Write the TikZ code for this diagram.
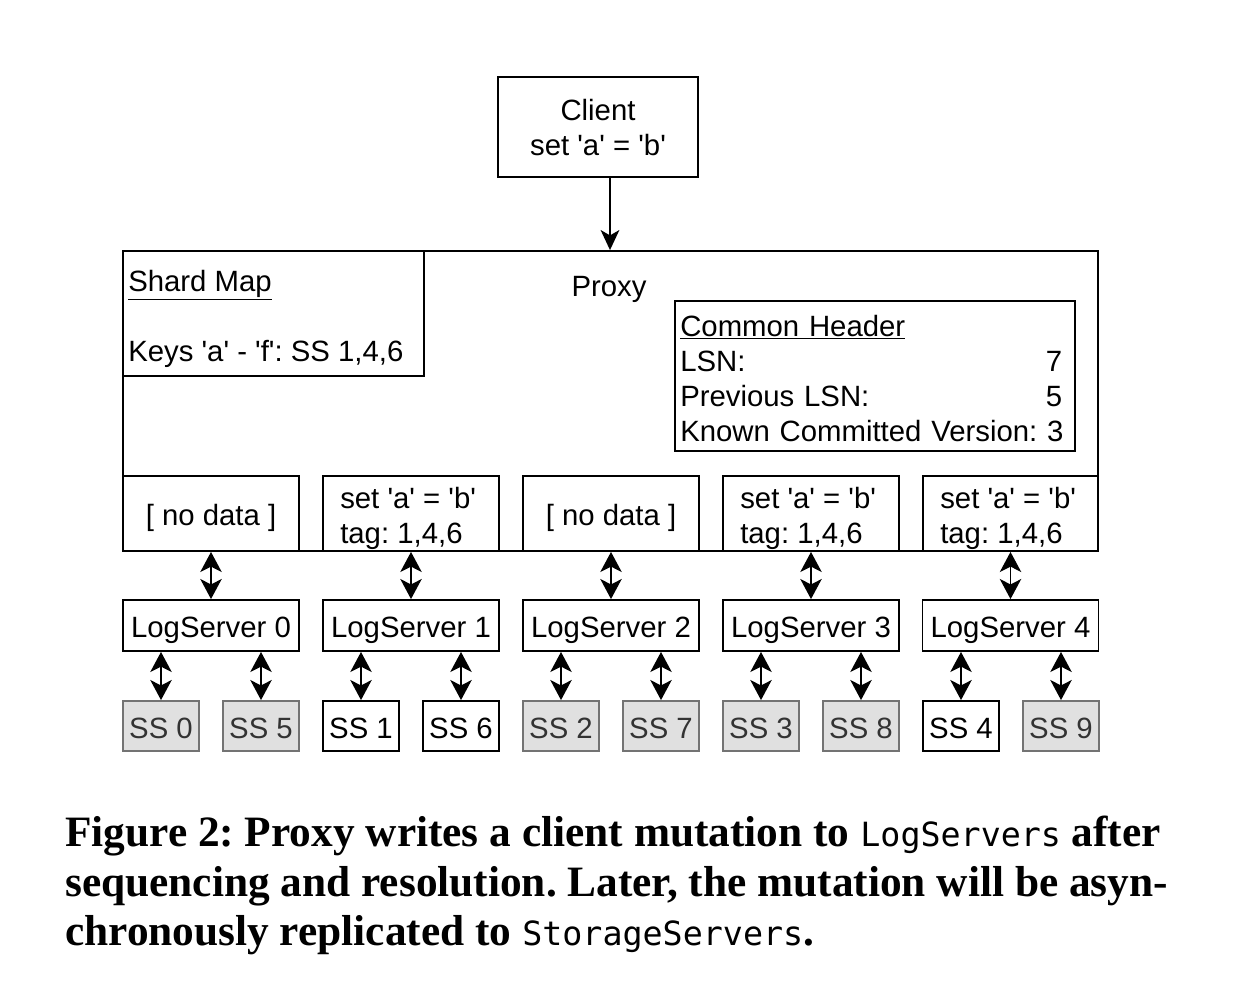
\documentclass[tikz,border=0pt]{standalone}
\usepackage{fontspec}
\setmainfont{Liberation Sans}[Ligatures=TeXOff]
\newfontfamily\capfont{Liberation Serif}
\newfontfamily\capmono{DejaVu Sans Mono}[Ligatures=TeXOff]
\usetikzlibrary{arrows.meta}
\newcommand\dfont{\frenchspacing\fontsize{22pt}{26.25pt}\selectfont}
\begin{document}
\frenchspacing
\begin{tikzpicture}[x=0.75pt,y=-0.75pt,
  box/.style={draw, line width=1.4pt, inner sep=0pt, font=\dfont,
    text height=20.9pt, text depth=2.2pt},
  w/.style={minimum width=#1*0.75pt},
  h/.style={minimum height=#1*0.75pt},
  ssgrey/.style={box, draw=black!55, fill=black!12, text=black!80},
  dbl/.style={line width=1.4pt, {Stealth[length=15pt,width=16pt,inset=4pt]}-{Stealth[length=15pt,width=16pt,inset=4pt]}},
  one/.style={line width=1.4pt, -{Stealth[length=15pt,width=14pt,inset=4pt]}},
  txt/.style={inner sep=0pt, font=\dfont},
  mtxt/.style={inner sep=0pt, font=\dfont, anchor=west, align=left},
  capf/.style={inner sep=0pt, anchor=base west, font=\capfont\bfseries\fontsize{32.5pt}{39pt}\selectfont}]
\useasboundingbox[fill=white] (0,0) rectangle (1234,1000);

% client
\node[box,w=200,h=100] (client) at (598,127) {};
\node[txt,align=center] (clienttext) at (598,128) {Client\\set 'a' = 'b'};
% proxy
\node[box,w=975,h=300] (proxy) at (610.5,401) {};
\node[box,draw=none] (proxylabel) at (609,284) {Proxy};
\draw[one] (client.south -| 610,0) -- (610,0 |- proxy.north);
% shard map
\node[box,w=301,h=125] (shard) at (273.5,313.5) {};
\node[mtxt] (shardtext) at (128,318.5)
  {\underline{Shard Map}\\\mbox{}\\Keys 'a' - 'f': SS 1,4,6};
% common header
\node[box,w=400,h=150] (header) at (875,376) {};
\node[mtxt,text width=287pt] (headertext) at (680,378.5)
  {\underline{Common Header}\\
   \makebox[286.5pt][s]{LSN:\hfill 7}\\
   \makebox[286.5pt][s]{Previous LSN:\hfill 5}\\
   \makebox[286.5pt][l]{Known Committed Version: 3}};
% data boxes
\node[box,fill=white,w=176,h=75] (d0) at (211,513.5) {[ no data ]};
\node[box,fill=white,w=176,h=75] (d1) at (411,513.5) {};
\node[box,fill=white,w=176,h=75] (d2) at (611,513.5) {[ no data ]};
\node[box,fill=white,w=176,h=75] (d3) at (811,513.5) {};
\node[box,fill=white,w=175,h=75] (d4) at (1010.5,513.5) {};
\node[mtxt] (d1text) at (340,518.5) {set 'a' = 'b'\\tag: 1,4,6};
\node[mtxt] (d3text) at (740,518.5) {set 'a' = 'b'\\tag: 1,4,6};
\node[mtxt] (d4text) at (940,518.5) {set 'a' = 'b'\\tag: 1,4,6};
% log servers
\foreach \i/\x in {0/211,1/411,2/611,3/811,4/1010.5}{
  \node[box,w=176,h=51] (ls\i) at (\x,625.5) {LogServer \i};
  \draw[dbl] (d\i.south) -- (ls\i.north);
}
% storage servers
\foreach \s/\x/\l/\st in {0/161/0/ssgrey,5/261/0/ssgrey,1/361/1/box,6/461/1/box,2/561/2/ssgrey,7/661/2/ssgrey,3/761/3/ssgrey,8/861/3/ssgrey,4/961/4/box,9/1061/4/ssgrey}{
  \node[\st,w=76,h=50] (ss\s) at (\x,726) {SS \s};
  \draw[dbl] (ls\l.south -| ss\s) -- (ss\s.north);
}
% caption
\node[capf] (cap1) at (65,846)
  {Figure 2: Proxy writes a client mutation to {\capmono\mdseries\fontsize{25pt}{30pt}\selectfont LogServers} after};
\node[capf] (cap2) at (65,896)
  {sequencing and resolution. Later, the mutation will be asyn-};
\node[capf] (cap3) at (65,945)
  {chronously replicated to {\capmono\mdseries\fontsize{25pt}{30pt}\selectfont StorageServers}.};
\end{tikzpicture}
\end{document}
